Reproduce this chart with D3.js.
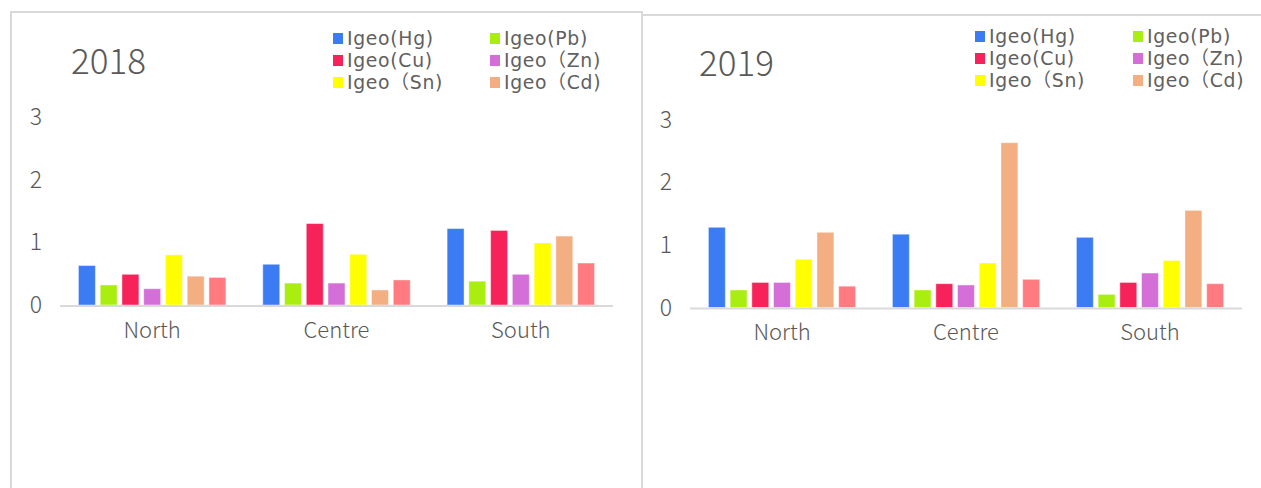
<!DOCTYPE html>
<html><head><meta charset="utf-8">
<script src="https://cdn.jsdelivr.net/npm/d3@7"></script>
<style>body{margin:0;background:#fff}svg{display:block}text{font-family:"Noto Sans CJK SC","Noto Sans",sans-serif;font-weight:300;fill:#595959}
text.lg{font-family:"DejaVu Sans","Noto Sans CJK SC",sans-serif;font-weight:normal;fill:#606060;letter-spacing:0.7px}</style>
</head><body>
<svg id="c" width="1261" height="488"></svg>
<script>
const categories = ["North", "Centre", "South"];
const seriesNames = ["Igeo(Hg)", "Igeo(Pb)", "Igeo(Cu)", "Igeo（Zn)", "Igeo（Sn)", "Igeo（Cd)", "Series7"];
const legendNames = ["Igeo(Hg)", "Igeo(Pb)", "Igeo(Cu)", "Igeo（Zn)", "Igeo（Sn)", "Igeo（Cd)"];
const colors = ["#3b7cf4", "#aaee11", "#f8225a", "#d46fd8", "#ffff00", "#f3ae82", "#ff7b7f"];
const yTicks = [0, 1, 2, 3];
// values per series, in category order North, Centre, South
const values2018 = [
  [0.63, 0.65, 1.22],
  [0.32, 0.35, 0.38],
  [0.49, 1.30, 1.19],
  [0.26, 0.35, 0.49],
  [0.80, 0.81, 0.99],
  [0.46, 0.24, 1.10],
  [0.44, 0.40, 0.67]
];
const values2019 = [
  [1.28, 1.17, 1.12],
  [0.28, 0.28, 0.21],
  [0.40, 0.38, 0.40],
  [0.40, 0.36, 0.55],
  [0.77, 0.71, 0.75],
  [1.20, 2.63, 1.55],
  [0.34, 0.45, 0.38]
];

const svg = d3.select("#c");
svg.append("rect").attr("width",1261).attr("height",488).attr("fill","#fff");

function panel(cfg){
  const g = svg.append("g");
  g.append("rect").attr("x",cfg.bx).attr("y",cfg.by).attr("width",cfg.bw).attr("height",600)
    .attr("fill","none").attr("stroke","#d9d9d9").attr("stroke-width",2);
  const x0 = d3.scaleBand().domain(categories).range([cfg.x0, cfg.x1]).paddingInner(0.2).paddingOuter(0.1);
  const x1 = d3.scaleBand().domain(d3.range(seriesNames.length)).range([0, x0.bandwidth()]).paddingInner(0.22).paddingOuter(0);
  const y = d3.scaleLinear().domain([0,3]).range([cfg.y0, cfg.y3]);
  g.selectAll(".yt").data(yTicks).join("text")
    .attr("x", cfg.tx).attr("y", d=>y(d)).attr("dy","0.35em").attr("text-anchor","middle")
    .attr("font-size",23).text(d=>d);
  categories.forEach((c,ci)=>{
    seriesNames.forEach((s,si)=>{
      const v = cfg.data[si][ci];
      g.append("rect").attr("x", x0(c)+x1(si)).attr("width", x1.bandwidth())
        .attr("y", y(v)).attr("height", y(0)-y(v)).attr("fill", colors[si])
        .attr("stroke","rgba(255,255,255,0.45)").attr("stroke-width",1);
    });
  });
  g.append("line").attr("x1",cfg.x0).attr("x2",cfg.x1).attr("y1",y(0)+1).attr("y2",y(0)+1)
    .attr("stroke","#d9d9d9").attr("stroke-width",2);
  g.selectAll(".cl").data(categories).join("text")
    .attr("x", d=>x0(d)+x0.bandwidth()/2).attr("y", y(0)+25).attr("dy","0.35em")
    .attr("text-anchor","middle").attr("font-size",22).text(d=>d);
  g.append("text").attr("x",cfg.titleX).attr("y",cfg.titleY).attr("dy","0.35em")
    .attr("font-size",35).text(cfg.title);
  legendNames.forEach((n,i)=>{
    const col = i%2, row = Math.floor(i/2);
    const lx = col===0 ? cfg.lx1 : cfg.lx2;
    const ly = cfg.ly + row*22;
    g.append("rect").attr("x",lx).attr("y",ly-5).attr("width",10).attr("height",11).attr("fill",colors[i]);
    g.append("text").attr("class","lg").attr("x",lx+14).attr("y",ly).attr("dy","0.35em").attr("font-size",18.8).text(n);
  });
}

panel({data:values2018, title:"2018", bx:11, by:12, bw:631, x0:60, x1:613, y0:305, y3:117,
  tx:36, titleX:71, titleY:62, lx1:333, lx2:490, ly:38});
panel({data:values2019, title:"2019", bx:642, by:15, bw:640, x0:690, x1:1242, y0:307.5, y3:119.5,
  tx:666, titleX:699, titleY:64, lx1:975, lx2:1133, ly:36});
</script>
</body></html>
